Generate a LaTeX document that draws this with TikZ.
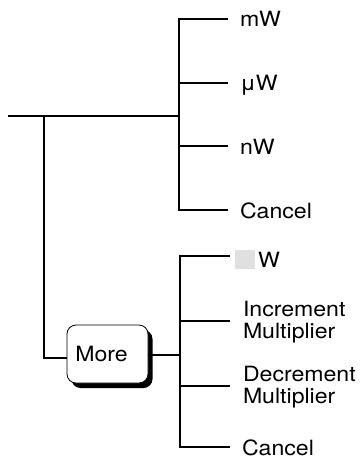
\documentclass[tikz,border=0pt]{standalone}
\usepackage{fontspec}
\setmainfont{TeX Gyre Heros}[FakeStretch=1.1]
\usetikzlibrary{shadows}
\begin{document}
\begin{tikzpicture}[x=1pt,y=-1pt,line width=2pt,
  txt/.style={font=\fontsize{21}{22.5}\selectfont},
  lbl/.style={txt,inner xsep=0pt,inner ysep=0pt,outer xsep=12pt,align=left},
  lblb/.style={lbl,outer xsep=13pt},
  button/.style={txt,draw,line width=0.8pt,rounded corners=9pt,fill=white,
    minimum width=81pt,minimum height=58pt,inner sep=0pt,
    drop shadow={shadow xshift=4.5pt,shadow yshift=-5pt,fill=black,opacity=1}}
]
\useasboundingbox (0,0) rectangle (362,457);
% top level
\coordinate (start) at (8,116);
\coordinate (j0) at (44,116);
\coordinate (j1) at (179,116);
\coordinate (t1) at (179,19);
\coordinate (t2) at (179,83);
\coordinate (t3) at (179,146);
\coordinate (t4) at (179,210);
\node[lbl,anchor=base west] (mw) at (228,27) {mW};
\node[lbl,anchor=base west] (uw) at (228,91) {μW};
\node[lbl,anchor=base west] (nw) at (228,154) {nW};
\node[lbl,anchor=base west] (can1) at (228,218) {Cancel};
\draw (start) -- (j1);
\draw (t1 -| mw.west) -- (t1) -- (t4) -- (t4 -| can1.west);
\draw (t2) -- (t2 -| uw.west);
\draw (t3) -- (t3 -| nw.west);
% More button
\node[button] (more) at (107.5,354) {\hspace*{-12pt}More};
\coordinate (m0) at (44,358);
\draw (j0) -- (m0) -- (m0 -| more.west);
% second level
\coordinate (b0) at (180,355);
\coordinate (b1) at (180,256);
\coordinate (b2) at (180,321);
\coordinate (b3) at (180,386);
\coordinate (b4) at (180,447);
\node[fill=black!12,minimum width=20pt,minimum height=19pt,inner sep=0pt,outer xsep=5pt] (gbox) at (245,259) {};
\node[txt,anchor=base west,inner sep=0pt] (w) at (257,267) {W};
\node[lblb,anchor=north west] (inc) at (230,300) {Increment\\Multiplier};
\node[lblb,anchor=north west] (dec) at (230,365) {Decrement\\Multiplier};
\node[lbl,anchor=base west] (can2) at (230,455) {Cancel};
\draw (more.east |- b0) -- (b0);
\draw (b1 -| gbox.west) -- (b1) -- (b4) -- (b4 -| can2.west);
\draw (b2) -- (b2 -| inc.west);
\draw (b3) -- (b3 -| dec.west);
\end{tikzpicture}
\end{document}
